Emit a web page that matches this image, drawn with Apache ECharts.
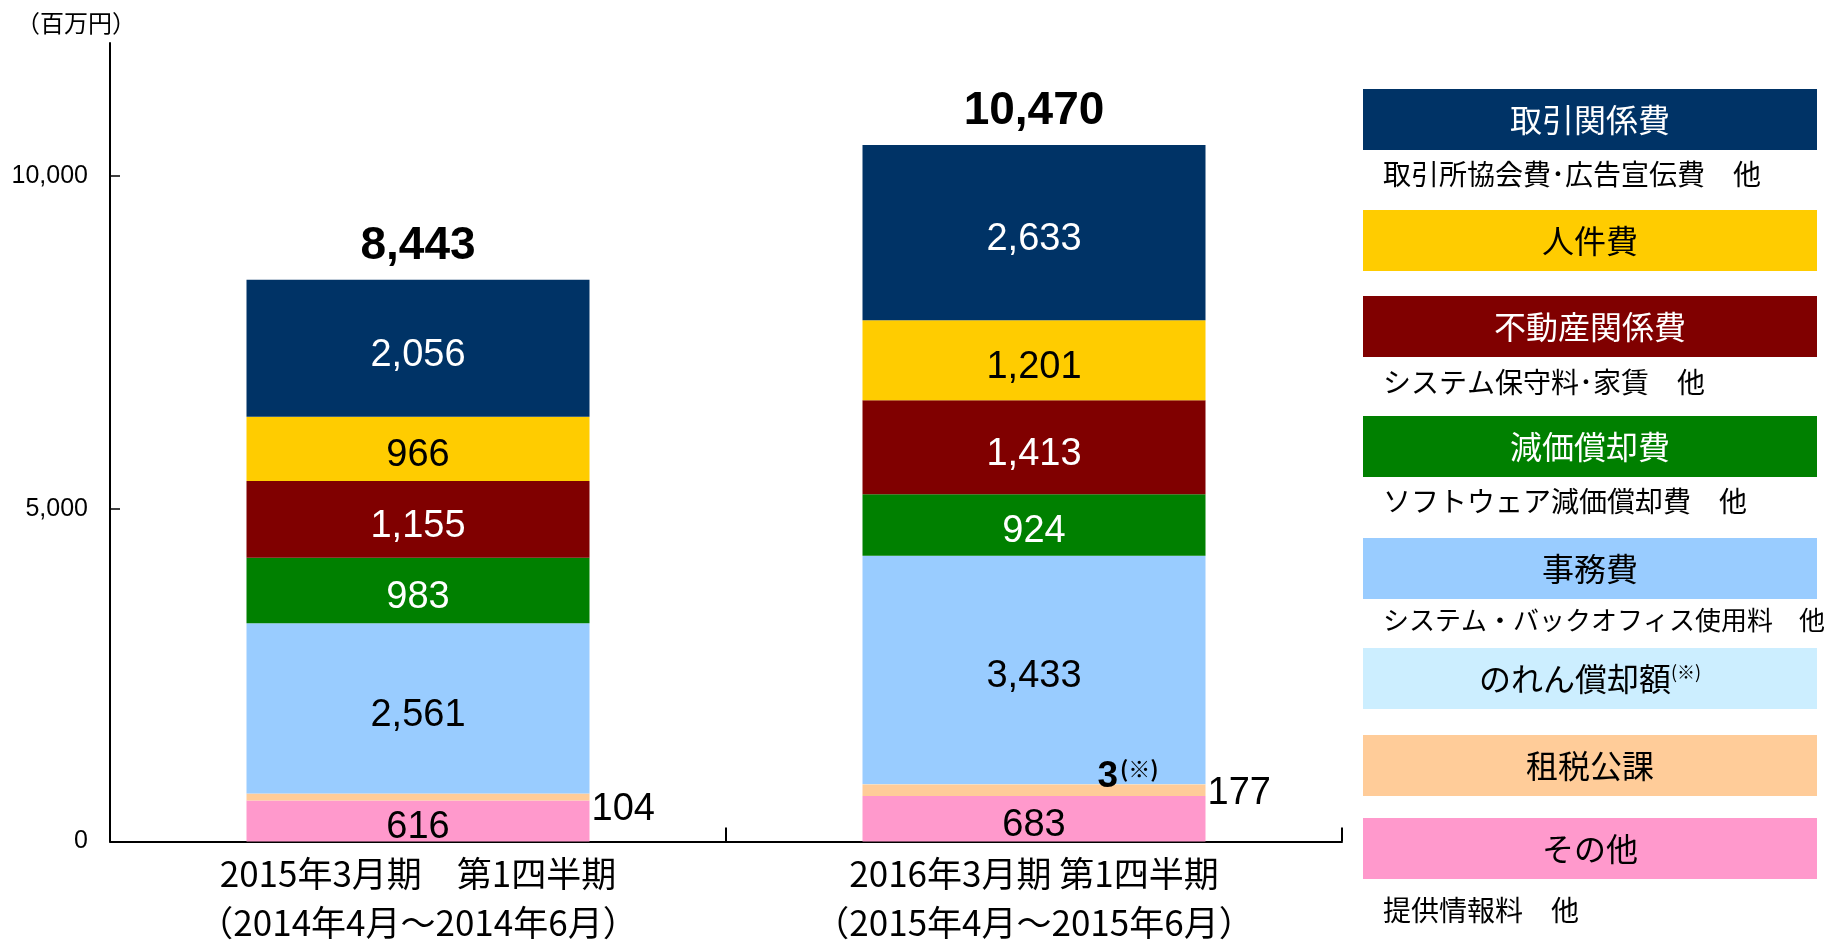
<!DOCTYPE html>
<html>
<head>
<meta charset="utf-8">
<script src="https://cdn.jsdelivr.net/npm/echarts@6/dist/echarts.min.js"></script>
<style>
html,body{margin:0;padding:0;background:#fff;}
#chart{width:1825px;height:942px;}
</style>
</head>
<body>
<div id="chart"></div>
<script>
// ---- data ----
const categories = [
  "2015年3月期　第1四半期\n（2014年4月～2014年6月）",
  "2016年3月期 第1四半期\n（2015年4月～2015年6月）"
];
const seriesNames = ["その他", "租税公課", "のれん償却額", "事務費", "減価償却費", "不動産関係費", "人件費", "取引関係費"];
const sonota     = [616, 683];
const sozei      = [104, 177];
const noren      = [0, 3];
const jimu       = [2561, 3433];
const genka      = [983, 924];
const fudosan    = [1155, 1413];
const jinken     = [966, 1201];
const torihiki   = [2056, 2633];
const totals     = [8443, 10470];
const yTicks     = [0, 5000, 10000];
const yUnit      = "（百万円）";

const legendNames = ["取引関係費", "人件費", "不動産関係費", "減価償却費", "事務費", "のれん償却額", "租税公課", "その他"];
const legendNotes = ["取引所協会費･広告宣伝費　他", "", "システム保守料･家賃　他", "ソフトウェア減価償却費　他", "システム・バックオフィス使用料　他", "", "", "提供情報料　他"];

// ---- styles ----
const colors = {
  "その他": "#FF99CC", "租税公課": "#FFCC99", "のれん償却額": "#CCEEFF", "事務費": "#99CCFF",
  "減価償却費": "#008000", "不動産関係費": "#800000", "人件費": "#FFCC00", "取引関係費": "#003366"
};
const labelColors = {
  "その他": "#000", "事務費": "#000", "減価償却費": "#fff", "不動産関係費": "#fff", "人件費": "#000", "取引関係費": "#fff"
};
const valuesByName = {
  "その他": sonota, "租税公課": sozei, "のれん償却額": noren, "事務費": jimu,
  "減価償却費": genka, "不動産関係費": fudosan, "人件費": jinken, "取引関係費": torihiki
};
const sozeiLabelOffsets = [[0, 12], [0, 3]];
const fmt = v => Number(v).toLocaleString('en-US');
const numFont = "'Liberation Sans', Arial, sans-serif";
const jpFont = "'Noto Sans CJK JP', sans-serif";

const series = seriesNames.map(name => {
  const s = {
    name: name, type: 'bar', stack: 'total', barWidth: 343,
    data: valuesByName[name],
    itemStyle: { color: colors[name] },
    emphasis: { disabled: true },
    label: {
      show: true, position: 'inside', offset: [0, 7], color: labelColors[name] || '#000',
      fontFamily: numFont, fontSize: 38,
      formatter: p => fmt(p.value)
    }
  };
  if (name === "租税公課") {
    s.data = sozei.map((v, i) => ({ value: v, label: { offset: sozeiLabelOffsets[i] } }));
    s.label = { show: true, position: 'right', distance: 2, color: '#000',
      fontFamily: numFont, fontSize: 38, formatter: p => fmt(p.value) };
  }
  if (name === "のれん償却額") {
    s.label = { show: true, position: 'top', distance: 1, offset: [94, 12], color: '#000',
      formatter: p => p.value ? '{n|' + p.value + '}{s|(※)}' : '',
      rich: {
        n: { fontFamily: numFont, fontWeight: 'bold', fontSize: 37, color: '#000' },
        s: { fontFamily: jpFont, fontWeight: 'bold', fontSize: 22, color: '#000', verticalAlign: 'top', padding: [0,0,14,2] }
      }
    };
  }
  return s;
});
// total labels on top of the stacks
series.push({
  name: '合計', type: 'bar', stack: 'total', barWidth: 343,
  data: totals.map(() => 0),
  itemStyle: { color: 'transparent' },
  emphasis: { disabled: true },
  label: {
    show: true, position: 'top', distance: 11, color: '#000',
    fontFamily: numFont, fontWeight: 'bold', fontSize: 46,
    formatter: p => fmt(totals[p.dataIndex])
  }
});

// legend graphic + unit text
const boxY = [89, 210, 296, 416, 538, 648, 735, 818];
const noteY = [174, null, 382, 501, 620, null, null, 910];
const noteSize = [28, 0, 28, 28, 26, 0, 0, 28];
const boxTextColor = ["#fff", "#000", "#fff", "#fff", "#000", "#000", "#000", "#000"];
const graphic = [{
  type: 'text', x: 76, y: 23,
  style: { text: yUnit, fill: '#000', font: "24px " + jpFont, align: 'center', verticalAlign: 'middle' }
}];
legendNames.forEach((nm, i) => {
  graphic.push({
    type: 'rect', left: 1363, top: boxY[i], shape: { width: 454, height: 61 },
    style: { fill: colors[nm] }
  });
  const isNoren = nm === "のれん償却額";
  graphic.push({
    type: 'text', x: 1590, y: boxY[i] + 31,
    style: {
      text: isNoren ? '{a|' + nm + '}{b|(※)}' : nm,
      fill: boxTextColor[i], font: "32px " + jpFont, align: 'center', verticalAlign: 'middle',
      rich: isNoren ? {
        a: { fontFamily: jpFont, fontSize: 32, fill: '#000' },
        b: { fontFamily: jpFont, fontSize: 18, fill: '#000', verticalAlign: 'top', padding: [0,0,12,0] }
      } : undefined
    }
  });
  if (legendNotes[i]) {
    graphic.push({
      type: 'text', x: 1383, y: noteY[i],
      style: { text: legendNotes[i], fill: '#000', font: noteSize[i] + "px " + jpFont, align: 'left', verticalAlign: 'middle' }
    });
  }
});

const chart = echarts.init(document.getElementById('chart'), null, { renderer: 'canvas' });
chart.setOption({
  animation: false,
  backgroundColor: '#fff',
  grid: { left: 110, right: 483, top: 43, bottom: 100.5, containLabel: false, outerBoundsMode: 'none' },
  xAxis: {
    type: 'category', data: categories,
    axisLine: { lineStyle: { color: '#000', width: 2 } },
    axisTick: { show: true, inside: true, length: 14, lineStyle: { color: '#000', width: 2 } },
    axisLabel: { color: '#000', fontFamily: jpFont, fontSize: 35, lineHeight: 49, margin: 8 }
  },
  yAxis: {
    type: 'value', min: 0, max: 12000, interval: 5000,
    splitLine: { show: false },
    axisLine: { show: true, lineStyle: { color: '#000', width: 2 } },
    axisTick: { show: true, inside: true, length: 10, lineStyle: { color: '#000', width: 1.5 }, customValues: yTicks },
    axisLabel: { color: '#000', fontFamily: numFont, fontSize: 25, margin: 22, customValues: yTicks, formatter: v => fmt(v) }
  },
  series: series,
  graphic: graphic
});
</script>
</body>
</html>
